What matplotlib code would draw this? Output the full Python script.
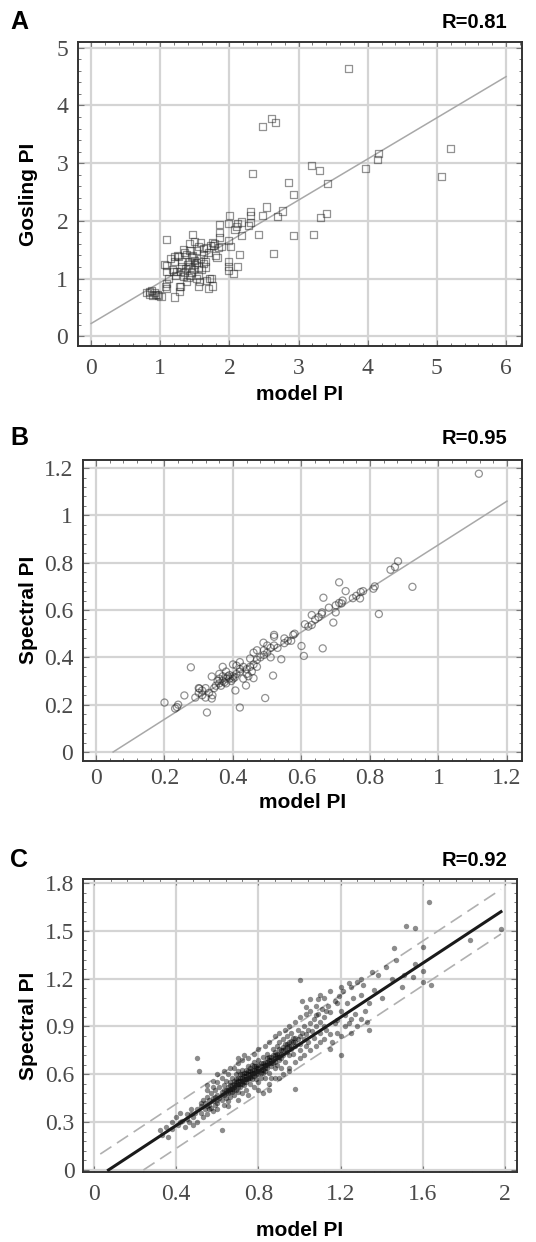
import numpy as np
import matplotlib
matplotlib.use('agg')
import matplotlib.pyplot as plt
from matplotlib.ticker import AutoMinorLocator, MultipleLocator

# ---- panel A: model PI vs Gosling PI ----
a_x = [3.72, 2.61, 2.66, 2.48, 5.20, 4.15, 4.14, 3.97, 5.07, 3.18, 3.30, 2.33, 2.85, 3.42,
       2.93, 2.54, 2.31, 2.31, 2.48, 2.77, 2.69, 3.40, 3.32, 2.93, 3.22, 2.42, 2.64, 2.27,
       2.12, 2.00, 1.98, 2.08, 2.17, 1.85, 1.85, 1.86, 1.99, 2.02, 1.77, 1.73, 1.84, 1.89,
       2.15, 1.99, 1.98, 2.12, 1.99, 2.06, 1.09, 1.47, 1.82, 1.71, 1.76, 1.70, 1.20, 1.28,
       1.29, 1.07, 1.06,
       0.80, 0.84, 0.87, 0.89, 0.93, 0.97, 1.01, 0.91, 0.96, 0.85,
       1.50, 1.55, 1.43, 1.38, 1.26, 1.21, 1.31, 1.43, 1.50, 1.62, 1.67, 1.79, 1.62, 1.55,
       1.43, 1.36, 1.24, 1.19, 1.29, 1.48, 1.09, 1.09, 1.12, 1.33, 1.43, 1.55, 1.67, 1.74,
       1.55, 1.28, 1.09, 1.09,
       1.35, 1.45, 1.40, 1.52, 1.58, 1.30, 1.22, 1.17, 1.45, 1.60, 1.65, 1.70, 1.52, 1.38,
       1.25, 1.15, 1.33, 1.58, 1.75, 1.80, 1.50, 1.35, 1.62, 1.42, 1.47, 1.20, 1.65, 1.57,
       1.40, 1.53, 2.30, 2.18, 2.10]
a_y = [4.64, 3.78, 3.70, 3.64, 3.25, 3.16, 3.06, 2.91, 2.77, 2.96, 2.87, 2.82, 2.67, 2.64,
       2.46, 2.24, 2.16, 2.09, 2.09, 2.17, 2.08, 2.13, 2.05, 1.74, 1.77, 1.76, 1.44, 1.92,
       1.95, 2.10, 1.95, 1.85, 1.75, 1.94, 1.80, 1.71, 1.66, 1.55, 1.58, 1.58, 1.54, 1.55,
       1.42, 1.29, 1.21, 1.21, 1.14, 1.08, 1.67, 1.76, 1.36, 1.00, 0.87, 0.83, 0.68, 0.77,
       0.86, 0.86, 1.25,
       0.76, 0.72, 0.80, 0.70, 0.72, 0.70, 0.69, 0.76, 0.73, 0.77,
       1.64, 1.55, 1.49, 1.41, 1.38, 1.29, 1.29, 1.29, 1.32, 1.41, 1.53, 1.61, 1.26, 1.20,
       1.20, 1.18, 1.12, 1.12, 1.12, 1.15, 1.23, 1.12, 1.00, 1.03, 1.06, 1.06, 0.97, 1.00,
       0.86, 0.86, 0.83, 0.92,
       1.45, 1.38, 1.25, 1.48, 1.35, 1.20, 1.05, 1.15, 1.10, 1.15, 1.30, 1.45, 1.00, 0.95,
       1.40, 1.35, 1.50, 1.62, 1.62, 1.40, 1.24, 1.10, 1.52, 1.60, 1.40, 1.38, 1.20, 0.95,
       1.02, 1.28, 1.97, 1.98, 1.90]
a_fit_x = [0.0, 6.0]
a_fit_y = [0.22, 4.50]

# ---- panel B: model PI vs Spectral PI ----
b_x = [1.118, 0.882, 0.873, 0.924, 0.710, 0.729, 0.773, 0.771, 0.814, 0.826, 0.664, 0.710,
       0.717, 0.700, 0.693, 0.659, 0.630, 0.630, 0.650, 0.662, 0.600, 0.607, 0.576, 0.550,
       0.520, 0.520, 0.541, 0.517, 0.494, 0.420, 0.324, 0.277, 0.200, 0.236, 0.231, 0.258,
       0.302, 0.338, 0.338, 0.438, 0.407, 0.460, 0.489,
       0.36, 0.37, 0.38, 0.375, 0.39, 0.40, 0.385, 0.395, 0.365, 0.355, 0.41, 0.40, 0.37,
       0.38, 0.36, 0.39, 0.405, 0.35, 0.345, 0.42, 0.43, 0.42, 0.41, 0.44, 0.45, 0.455, 0.44,
       0.43, 0.46, 0.47, 0.48, 0.49, 0.50, 0.51, 0.50, 0.49, 0.52, 0.53, 0.51, 0.47, 0.45,
       0.46,
       0.30, 0.31, 0.32, 0.31, 0.30, 0.33, 0.34, 0.32, 0.29, 0.24,
       0.55, 0.56, 0.58, 0.57, 0.62, 0.61, 0.64, 0.66, 0.68, 0.70, 0.72, 0.76, 0.78, 0.81,
       0.86, 0.75,
       0.37, 0.40, 0.42, 0.445, 0.36, 0.47, 0.38]
b_y = [1.176, 0.806, 0.782, 0.698, 0.717, 0.680, 0.676, 0.649, 0.700, 0.583, 0.652, 0.630,
       0.628, 0.590, 0.547, 0.583, 0.579, 0.537, 0.570, 0.438, 0.448, 0.406, 0.495, 0.480,
       0.487, 0.495, 0.392, 0.323, 0.228, 0.188, 0.167, 0.358, 0.209, 0.190, 0.184, 0.239,
       0.268, 0.319, 0.226, 0.281, 0.260, 0.312, 0.462,
       0.29, 0.30, 0.31, 0.295, 0.31, 0.32, 0.32, 0.30, 0.28, 0.30, 0.33, 0.31, 0.32,
       0.29, 0.31, 0.325, 0.315, 0.28, 0.27, 0.34, 0.36, 0.38, 0.365, 0.35, 0.36, 0.34, 0.33,
       0.31, 0.37, 0.39, 0.40, 0.41, 0.42, 0.44, 0.45, 0.43, 0.45, 0.44, 0.40, 0.43, 0.395,
       0.42,
       0.25, 0.26, 0.27, 0.24, 0.27, 0.25, 0.24, 0.23, 0.23, 0.20,
       0.46, 0.47, 0.50, 0.47, 0.53, 0.54, 0.56, 0.59, 0.61, 0.62, 0.64, 0.66, 0.68, 0.69,
       0.77, 0.65,
       0.36, 0.37, 0.35, 0.32, 0.33, 0.36, 0.34]
b_fit_x = [0.05, 1.20]
b_fit_y = [0.0, 1.06]

# ---- panel C: model PI vs Spectral PI (large set) ----
c_pts = [
    (0.32, 0.25), (0.33, 0.22), (0.35, 0.27), (0.36, 0.21), (0.38, 0.30), (0.40, 0.33),
    (0.41, 0.28), (0.42, 0.36), (0.43, 0.31), (0.44, 0.27), (0.45, 0.35), (0.46, 0.30),
    (0.47, 0.38), (0.48, 0.33), (0.49, 0.36), (0.50, 0.70), (0.51, 0.62), (0.50, 0.30),
    (0.48, 0.28), (0.52, 0.40), (0.52, 0.36), (0.53, 0.44), (0.53, 0.33), (0.54, 0.42),
    (0.54, 0.38), (0.55, 0.46), (0.55, 0.35), (0.56, 0.41), (0.56, 0.44), (0.57, 0.39),
    (0.57, 0.48), (0.58, 0.43), (0.58, 0.37), (0.59, 0.46), (0.59, 0.50), (0.60, 0.42),
    (0.60, 0.47), (0.60, 0.38), (0.61, 0.45), (0.61, 0.52), (0.62, 0.44), (0.62, 0.49),
    (0.62, 0.25), (0.63, 0.47), (0.63, 0.41), (0.63, 0.53), (0.64, 0.50), (0.64, 0.45),
    (0.64, 0.56), (0.65, 0.48), (0.65, 0.52), (0.65, 0.43), (0.66, 0.51), (0.66, 0.55),
    (0.66, 0.46), (0.67, 0.53), (0.67, 0.49), (0.67, 0.58), (0.68, 0.52), (0.68, 0.56),
    (0.68, 0.47), (0.69, 0.55), (0.69, 0.60), (0.69, 0.50), (0.70, 0.54), (0.70, 0.58),
    (0.70, 0.49), (0.70, 0.62), (0.71, 0.56), (0.71, 0.52), (0.71, 0.60), (0.72, 0.58),
    (0.72, 0.54), (0.72, 0.63), (0.72, 0.48), (0.73, 0.57), (0.73, 0.61), (0.73, 0.53),
    (0.74, 0.59), (0.74, 0.63), (0.74, 0.55), (0.74, 0.50), (0.75, 0.60), (0.75, 0.57),
    (0.75, 0.65), (0.76, 0.62), (0.76, 0.58), (0.76, 0.54), (0.77, 0.61), (0.77, 0.66),
    (0.77, 0.57), (0.78, 0.63), (0.78, 0.59), (0.78, 0.68), (0.78, 0.52), (0.79, 0.62),
    (0.79, 0.65), (0.79, 0.57), (0.80, 0.64), (0.80, 0.60), (0.80, 0.69), (0.80, 0.55),
    (0.81, 0.63), (0.81, 0.67), (0.81, 0.58), (0.82, 0.65), (0.82, 0.61), (0.82, 0.71),
    (0.83, 0.66), (0.83, 0.62), (0.83, 0.58), (0.84, 0.68), (0.84, 0.64), (0.84, 0.73),
    (0.85, 0.67), (0.85, 0.61), (0.85, 0.71), (0.86, 0.69), (0.86, 0.65), (0.86, 0.58),
    (0.87, 0.72), (0.87, 0.67), (0.87, 0.76), (0.88, 0.70), (0.88, 0.64), (0.88, 0.74),
    (0.89, 0.71), (0.89, 0.78), (0.89, 0.66), (0.90, 0.73), (0.90, 0.69), (0.90, 0.80),
    (0.91, 0.75), (0.91, 0.70), (0.91, 0.64), (0.92, 0.77), (0.92, 0.72), (0.92, 0.82),
    (0.93, 0.76), (0.93, 0.68), (0.94, 0.79), (0.94, 0.74), (0.94, 0.84), (0.95, 0.78),
    (0.95, 0.72), (0.96, 0.81), (0.96, 0.76), (0.96, 0.86), (0.97, 0.80), (0.97, 0.73),
    (0.98, 0.83), (0.98, 0.78), (0.99, 0.82), (0.99, 0.88), (1.00, 0.84), (1.00, 0.79),
    (1.00, 0.75), (1.01, 0.86), (1.02, 0.82), (1.02, 0.90), (1.03, 0.85), (1.04, 0.88),
    (1.04, 0.80), (1.05, 0.92), (1.06, 0.87), (1.07, 0.95), (1.07, 0.83), (1.08, 0.90),
    (1.09, 0.98), (1.10, 0.93), (1.10, 0.86), (1.11, 1.01), (1.12, 0.96), (1.13, 0.88),
    (1.14, 1.03), (1.15, 0.99), (1.16, 0.80), (1.17, 1.06), (1.18, 0.94), (1.19, 1.09),
    (1.20, 1.00), (1.20, 0.72), (1.21, 1.12), (1.22, 0.97), (1.23, 1.05), (1.24, 0.92),
    (1.25, 1.15), (1.26, 1.08), (1.27, 0.98), (1.28, 1.18), (1.30, 1.10), (1.31, 1.16),
    (1.33, 0.93), (1.34, 0.88), (1.34, 1.05), (1.36, 1.13), (1.38, 1.22), (1.40, 1.08),
    (1.42, 1.27), (1.45, 1.20), (1.46, 1.39), (1.47, 1.32), (1.50, 1.15), (1.51, 1.22),
    (1.52, 1.53), (1.55, 1.21), (1.56, 1.29), (1.56, 1.52), (1.60, 1.25), (1.60, 1.40),
    (1.60, 1.18), (1.63, 1.68), (1.64, 1.16), (1.83, 1.44), (1.98, 1.51), (1.00, 1.19),
    (1.01, 1.06), (1.09, 1.07), (0.98, 0.51),
    (0.55, 0.50), (0.58, 0.52), (0.60, 0.55), (0.62, 0.58), (0.65, 0.60), (0.68, 0.64),
    (0.70, 0.67), (0.72, 0.69), (0.75, 0.70), (0.78, 0.73), (0.80, 0.76), (0.83, 0.78),
    (0.85, 0.80), (0.88, 0.84), (0.90, 0.86), (0.93, 0.88), (0.95, 0.90), (0.98, 0.93),
    (1.00, 0.96), (1.03, 0.98), (1.05, 1.00), (1.08, 1.03),
    (0.65, 0.40), (0.70, 0.44), (0.75, 0.47), (0.80, 0.50), (0.85, 0.54), (0.88, 0.58),
    (0.92, 0.60), (0.95, 0.64), (0.98, 0.68), (1.02, 0.72), (1.05, 0.75), (1.08, 0.78),
    (1.12, 0.82), (1.15, 0.85), (1.18, 0.86), (1.22, 0.90), (1.25, 0.95),
    # second pass over the dense core
    (0.62, 0.47), (0.63, 0.50), (0.64, 0.48), (0.65, 0.50), (0.66, 0.49), (0.66, 0.53),
    (0.67, 0.51), (0.68, 0.54), (0.68, 0.50), (0.69, 0.53), (0.69, 0.57), (0.70, 0.52),
    (0.70, 0.56), (0.71, 0.54), (0.71, 0.58), (0.72, 0.56), (0.72, 0.60), (0.73, 0.55),
    (0.73, 0.59), (0.74, 0.57), (0.74, 0.61), (0.75, 0.58), (0.75, 0.62), (0.76, 0.60),
    (0.76, 0.64), (0.77, 0.59), (0.77, 0.63), (0.78, 0.61), (0.78, 0.65), (0.79, 0.60),
    (0.79, 0.64), (0.80, 0.62), (0.80, 0.66), (0.81, 0.61), (0.81, 0.65), (0.82, 0.63),
    (0.82, 0.67), (0.83, 0.64), (0.83, 0.68), (0.84, 0.66), (0.84, 0.70), (0.85, 0.69),
    (0.86, 0.67), (0.86, 0.71), (0.87, 0.69), (0.88, 0.72), (0.88, 0.68), (0.89, 0.73),
    (0.90, 0.71), (0.90, 0.76), (0.91, 0.73), (0.92, 0.75), (0.93, 0.79), (0.94, 0.77),
    (0.95, 0.80), (0.96, 0.78), (0.97, 0.83), (0.98, 0.80),
    (0.58, 0.56), (0.60, 0.60), (0.63, 0.62), (0.66, 0.64), (0.70, 0.70), (0.73, 0.72),
    (0.55, 0.53),
    (1.05, 1.07), (1.10, 1.10), (1.12, 1.08), (1.15, 1.12), (1.18, 1.05), (1.20, 1.15),
    (1.24, 1.17), (1.30, 1.20), (1.35, 1.24), (1.03, 1.02), (1.08, 0.97), (1.13, 1.00),
    (1.10, 0.80), (1.15, 0.76), (1.20, 0.84), (1.25, 0.86), (1.28, 0.90), (1.30, 0.95),
    (1.32, 1.00), (1.12, 0.90), (1.17, 0.92), (1.00, 0.70), (1.03, 0.78), (0.95, 0.62),
    (0.90, 0.58), (0.85, 0.50), (0.82, 0.48),
    (0.45, 0.32), (0.47, 0.35), (0.50, 0.38), (0.52, 0.42), (0.55, 0.40), (0.58, 0.45),
    (0.60, 0.44), (0.42, 0.30), (0.38, 0.26), (0.56, 0.38), (0.59, 0.41),
]
c_x = [p[0] for p in c_pts]
c_y = [p[1] for p in c_pts]
c_fit_x = [0.07, 1.98]
c_fit_y = [0.0, 1.62]
c_up_x = [0.03, 1.98]
c_up_y = [0.10, 1.76]
c_lo_x = [0.24, 1.98]
c_lo_y = [0.0, 1.48]

W, H = 536, 1242


def px_box(left, top, right, bottom):
    return [left / W, 1 - bottom / H, (right - left) / W, (bottom - top) / H]


def fmt_num(v, pos):
    s = ('%.1f' % v).rstrip('0').rstrip('.')
    return '0' if s in ('-0', '') else s


def style_axes(ax, xlim, ylim, xstep, ystep, xpad, ypad):
    ax.set_xlim(*xlim)
    ax.set_ylim(*ylim)
    ax.xaxis.set_major_locator(MultipleLocator(xstep))
    ax.yaxis.set_major_locator(MultipleLocator(ystep))
    ax.xaxis.set_minor_locator(AutoMinorLocator(5))
    ax.yaxis.set_minor_locator(AutoMinorLocator(5))
    ax.xaxis.set_major_formatter(plt.FuncFormatter(fmt_num))
    ax.yaxis.set_major_formatter(plt.FuncFormatter(fmt_num))
    ax.grid(True, which='major', color='#d4d4d4', lw=1.6, zorder=0)
    ax.set_axisbelow(True)
    for s in ax.spines.values():
        s.set_color('#333333')
        s.set_linewidth(1.4)
    ax.tick_params(which='both', direction='in', top=True, right=True, color='#777777')
    ax.tick_params(which='major', length=4, width=0.8)
    ax.tick_params(which='minor', length=2.5, width=0.7)
    ax.tick_params(axis='x', which='major', pad=xpad)
    ax.tick_params(axis='y', which='major', pad=ypad)
    for lab in ax.get_xticklabels() + ax.get_yticklabels():
        lab.set_fontfamily('Liberation Serif')
        lab.set_fontsize(17)
        lab.set_color('#4a4a4a')


def labels(fig, letter, rtext, ytxt, top_y, ylab_y, xlab_x, xlab_y):
    fig.text(10 / W, 1 - top_y / H, letter, fontsize=18, fontweight='bold',
             family='Liberation Sans', va='center', ha='left')
    fig.text(507 / W, 1 - top_y / H, rtext, fontsize=14.5, fontweight='bold',
             family='Liberation Sans', va='center', ha='right')
    fig.text(29 / W, 1 - ylab_y / H, ytxt, fontsize=15, fontweight='bold',
             family='Liberation Sans', va='center', ha='center', rotation=90)
    fig.text(xlab_x / W, 1 - xlab_y / H, 'model PI', fontsize=15, fontweight='bold',
             family='Liberation Sans', va='center', ha='center')


fig = plt.figure(figsize=(W / 100, H / 100), dpi=100)

# panel A
ax1 = fig.add_axes(px_box(78, 42, 522, 346))
ax1.plot(a_fit_x, a_fit_y, color='#a8a8a8', lw=1.1, zorder=2)
ax1.scatter(a_x, a_y, marker='s', s=26, facecolors='none',
            edgecolors=(0.15, 0.15, 0.15, 0.5), linewidths=0.9, zorder=3)
style_axes(ax1, (-0.19, 6.23), (-0.17, 5.1), 1, 1, 9, 7)
labels(fig, 'A', 'R=0.81', 'Gosling PI', 22, 194, 300, 394)

# panel B
ax2 = fig.add_axes(px_box(83, 460, 522, 761))
ax2.plot(b_fit_x, b_fit_y, color='#a8a8a8', lw=1.1, zorder=2)
ax2.scatter(b_x, b_y, marker='o', s=26, facecolors='none',
            edgecolors=(0.15, 0.15, 0.15, 0.5), linewidths=0.9, zorder=3)
style_axes(ax2, (-0.038, 1.244), (-0.038, 1.234), 0.2, 0.2, 5, 7)
labels(fig, 'B', 'R=0.95', 'Spectral PI', 438, 610, 303, 802)

# panel C
ax3 = fig.add_axes(px_box(83, 879, 517, 1172))
ax3.scatter(c_x, c_y, marker='o', s=15, color='black', alpha=0.45,
            linewidths=0, zorder=3)
ax3.plot(c_up_x, c_up_y, color='#b0b0b0', lw=1.2, ls=(0, (8, 4)), zorder=2)
ax3.plot(c_lo_x, c_lo_y, color='#b0b0b0', lw=1.2, ls=(0, (8, 4)), zorder=2)
ax3.plot(c_fit_x, c_fit_y, color='#1a1a1a', lw=2.2, zorder=4)
style_axes(ax3, (-0.054, 2.058), (-0.0125, 1.825), 0.4, 0.3, 9, 6)
labels(fig, 'C', 'R=0.92', 'Spectral PI', 860, 1026, 300, 1230)

fig.savefig('out.png', dpi=100)
